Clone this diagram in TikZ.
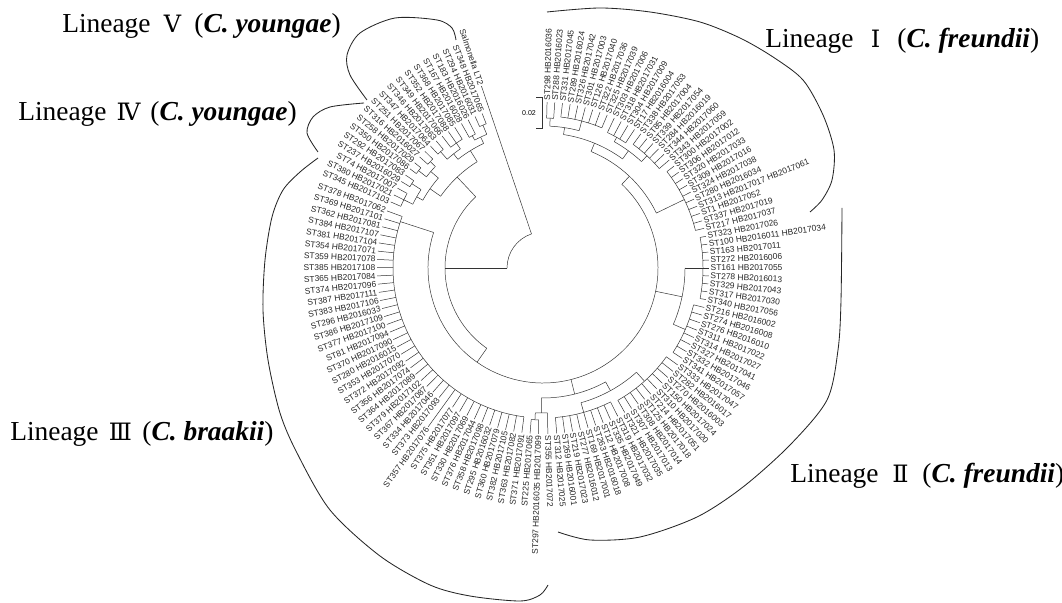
\documentclass[tikz,border=0pt]{standalone}
\usepackage{fontspec}
\setmainfont{Liberation Serif}
\newfontfamily\numfont{DejaVu Serif}
\newfontfamily\leaffont{Liberation Sans}

\tikzset{
  br/.style={line width=0.35pt, black!80},
  leaf/.style={font=\leaffont\fontsize{6}{7}\selectfont, inner sep=1pt, text=black!85},
  lineage/.style={font=\fontsize{19.5}{22}\selectfont, anchor=base west, inner sep=0pt},
  bracket/.style={line width=0.6pt, black!85}
}
% roman numeral, full width
\newcommand\rn[1]{\makebox[1.1em]{\numfont\fontsize{17}{20}\selectfont #1}}
% arc of a clade: radius, from, to
\newcommand\clade[3]{\draw[br] (#2:#1) arc[start angle=#2, end angle=#3, radius=#1];}
% radial branch: angle, r1, r2
\newcommand\stem[3]{\draw[br] (#1:#2) -- (#1:#3);}
% tips on the right half (angles going clockwise)
\newcommand\leafsR[5]{%
  \foreach \lab [count=\i] in {#5}{%
    \pgfmathsetmacro\ang{#2-(\i-1)*#3}%
    \draw[br] (\ang:#4) -- (\ang:166) node[leaf, anchor=west, rotate=\ang] (#1\i) {\lab};}}
% tips on the left half (angles going anticlockwise)
\newcommand\leafsL[5]{%
  \foreach \lab [count=\i] in {#5}{%
    \pgfmathsetmacro\ang{#2+(\i-1)*#3}%
    \draw[br] (\ang:#4) -- (\ang:166) node[leaf, anchor=east, rotate=\ang-180] (#1\i) {\lab};}}

\begin{document}
\begin{tikzpicture}[x=0.025cm, y=0.025cm]
\useasboundingbox (0,0) rectangle (1062,603);

% lineage names
\node[lineage] (linV) at (62,570) {Lineage \rn{Ⅴ} (\textbf{\textit{C. youngae}})};
\node[lineage] (linIV) at (18,482) {Lineage \rn{Ⅳ} (\textbf{\textit{C. youngae}})};
\node[lineage] (linI) at (765,555) {Lineage \rn{Ⅰ} (\textbf{\textit{C. freundii}})};
\node[lineage] (linIII) at (10,162) {Lineage \rn{Ⅲ} (\textbf{\textit{C. braakii}})};
\node[lineage] (linII) at (790,120) {Lineage \rn{Ⅱ} (\textbf{\textit{C. freundii}})};

% brackets round the lineages
\draw[bracket] plot[smooth] coordinates {(367,503) (350,528) (347,548) (360,570) (395,585) (437,583) (452,575) (456,563)};
\draw[bracket] plot[smooth] coordinates {(364,500) (330,496) (313,486) (307,470) (318,451)};
\draw[bracket] plot[smooth] coordinates {(318,445) (300,431) (283,413) (272,386) (265,343) (263,293) (268,243) (280,190) (297,150) (330,93) (380,47) (430,18) (470,7) (520,2) (540,8) (548,18)};
\draw[bracket] plot[smooth] coordinates {(558,71) (590,63) (640,66) (697,86) (743,116) (790,158) (827,203) (838,253) (841,303) (842,395)};
\draw[bracket] plot[smooth] coordinates {(547,591) (600,595) (650,591) (700,581) (740,565) (773,546) (803,523) (823,488) (834,453) (832,423) (822,403) (810,391)};

% scale bar
\draw[br] (536,506) -- (542,506) -- (542,475) -- (536,475);
\node[font=\leaffont\fontsize{5}{6}\selectfont, inner sep=0pt] (scl) at (529,490) {0.02};

\begin{scope}[shift={(543,335)}]
% root and outgroup
\clade{36}{108.7}{180}
\stem{108.7}{36}{192}
\node[leaf, anchor=east, rotate=-71.3] (salm) at (108.7:192) {Salmonella LT2};
\stem{180}{36}{98}
\clade{98}{133.36}{235}
% lineages V and IV
\stem{133.36}{98}{125}
\clade{125}{121.77}{144.956}
\stem{121.77}{125}{138}
\clade{138}{115.475}{128.0625}
\stem{115.475}{138}{145} \clade{145}{112.825}{118.125}
\stem{128.0625}{138}{145} \clade{145}{124.75}{131.375}
\stem{112.825}{145}{155} \clade{155}{111.5}{114.15}
\stem{118.125}{145}{150} \clade{150}{116.8}{119.45}
\stem{124.75}{145}{152} \clade{152}{122.1}{127.4}
\stem{131.375}{145}{155} \clade{155}{130.05}{132.7}
\leafsL{va}{111.5}{2.65}{155}{ST348 HB2017065, ST294 HB2016031}
\leafsL{vb}{116.8}{2.65}{150}{ST183 HB2016026, ST167 HB2016028}
\leafsL{vc}{122.1}{2.65}{152}{ST368 HB2017085, ST352 HB2017088, ST349 HB2017066}
\leafsL{vd}{130.05}{2.65}{155}{ST346 HB2017063, ST347 HB2017064}
\stem{144.956}{125}{138}
\clade{138}{139.325}{150.5875}
\stem{139.325}{138}{148} \clade{148}{136.675}{141.975}
\stem{150.5875}{138}{145} \clade{145}{147.275}{153.9}
\stem{136.675}{148}{155} \clade{155}{135.35}{138}
\stem{141.975}{148}{158} \clade{158}{140.65}{143.3}
\stem{147.275}{145}{156} \clade{156}{145.95}{148.6}
\stem{153.9}{145}{155} \clade{155}{151.25}{156.55}
\leafsL{fa}{135.35}{2.65}{155}{ST251 HB2017067, ST316 HB2016027}
\leafsL{fb}{140.65}{2.65}{158}{ST258 HB2017029, ST350 HB2017086}
\leafsL{fc}{145.95}{2.65}{156}{ST292 HB2017083, ST237 HB2016029}
\leafsL{fd}{151.25}{2.65}{155}{ST74 HB2017007, ST380 HB2017021, ST345 HB2017103}
% big circle
\stem{235}{98}{115}
\clade{115}{162}{406.72}
% lineage III
\stem{162}{115}{150}
\clade{150}{159.9}{262.68}
\leafsL{ta}{159.9}{2.855}{150}{ST378 HB2017062, ST369 HB2017101, ST362 HB2017081, ST384 HB2017107, ST381 HB2017104, ST354 HB2017071, ST359 HB2017078, ST385 HB2017108, ST365 HB2017084, ST374 HB2017096, ST387 HB2017111, ST383 HB2017106, ST296 HB2016033, ST386 HB2017109, ST377 HB2017100, ST81 HB2017094, ST370 HB2017090}
\leafsL{tb}{208.435}{2.855}{150}{ST280 HB2016015, ST353 HB2017070, ST372 HB2017092, ST356 HB2017074, ST364 HB2017089, ST379 HB2017102, ST367 HB2017087, ST334 HB2017046, ST373 HB2017093}
\stem{234.13}{150}{196}
\node[leaf, anchor=east, rotate=54.13] (t357) at (234.13:196) {ST357 HB2017076};
\leafsL{tc}{236.985}{2.855}{150}{ST375 HB2017077, ST351 HB2017097, ST330 HB2017069, ST376 HB2017044, ST358 HB2017098, ST295 HB2016032, ST360 HB2017079, ST382 HB2017105, ST363 HB2017082, ST371 HB2017091}
% bottom clusters
\stem{284.1}{115}{130}
\clade{130}{269.33}{298.8}
\stem{269.33}{130}{145}
\clade{145}{266.96}{271.7}
\stem{266.96}{145}{152}
\clade{152}{265.535}{268.39}
\leafsL{td}{265.535}{2.855}{152}{ST225 HB2017065, ST297 HB2016035 HB2017099}
\leafsR{te}{-88.3}{0}{145}{ST355 HB2017072}
\stem{298.8}{130}{140}
\clade{140}{285.75}{311.875}
\stem{311.875}{140}{152} \clade{152}{-35.75}{-60.5}
\stem{285.75}{140}{150} \clade{150}{-63.25}{-85.25}
\leafsR{sc}{-35.75}{2.75}{152}{ST333 HB2017047, ST282 HB2016017, ST270 HB2016003, ST150 HB2017024, ST310 HB2017020, ST214 HB2017051, ST125 HB2017018, ST308 HB2017014, ST307 HB2017013, ST321 HB2017035}
\leafsR{sd}{-63.25}{2.75}{150}{ST319 HB2017032, ST335 HB2017049, ST12 HB2017008, ST263 HB2016018, ST169 HB2017001, ST277 HB2016012, ST219 HB2017023, ST269 HB2016001, ST312 HB2017025}
% lineage II, upper part
\stem{-11.69}{115}{142}
\clade{142}{0}{-23.375}
\stem{0}{142}{160} \clade{160}{11}{-11}
\stem{-23.375}{142}{155} \clade{155}{-13.75}{-33}
\leafsR{sa}{11}{2.75}{160}{ST323 HB2017026, ST100 HB2016011 HB2017034, ST163 HB2017011, ST272 HB2016006, ST161 HB2017055, ST278 HB2016013, ST329 HB2017043, ST317 HB2017030, ST340 HB2017056}
\leafsR{sb}{-13.75}{2.75}{155}{ST216 HB2016002, ST274 HB2016008, ST276 HB2016010, ST311 HB2017022, ST314 HB2017027, ST327 HB2017041, ST332 HB2017046, ST341 HB2017057}
% lineage I
\stem{46.72}{115}{126}
\clade{126}{67.58}{25.86}
\stem{67.58}{126}{135} \clade{135}{81.26}{53.9}
\stem{81.26}{135}{142} \clade{142}{87.27}{75.25}
\stem{87.27}{142}{150} \clade{150}{88.6}{85.93}
\stem{75.25}{142}{152} \clade{152}{83.26}{67.24}
\stem{53.9}{135}{145} \clade{145}{60.57}{47.2}
\stem{60.57}{145}{150} \clade{150}{64.57}{56.56}
\stem{47.2}{145}{153} \clade{153}{53.89}{40.54}
\stem{25.86}{126}{157} \clade{157}{37.87}{13.84}
\leafsR{ia}{88.6}{2.67}{150}{ST298 HB2016036, ST288 HB2016023}
\leafsR{ib}{83.26}{2.67}{152}{ST331 HB2017045, ST289 HB2016024, ST326 HB2017042, ST301 HB2017003, ST126 HB2017040, ST322 HB2017036, ST325 HB2017039}
\leafsR{ic}{64.57}{2.67}{150}{ST303 HB2017006, ST318 HB2017031, ST304 HB2017009, ST17 HB2016004}
\leafsR{id}{53.89}{2.67}{153}{ST338 HB2017053, ST85 HB2017004, ST339 HB2017054, ST284 HB2016019, ST344 HB2017060, ST343 HB2017059}
\leafsR{ie}{37.87}{2.67}{157}{ST300 HB2017002, ST306 HB2017012, ST320 HB2017033, ST309 HB2017016, ST324 HB2017038, ST280 HB2016034, ST313 HB2017017 HB2017061, ST1 HB2017052, ST337 HB2017019, ST217 HB2017037}
\end{scope}
\end{tikzpicture}
\end{document}
